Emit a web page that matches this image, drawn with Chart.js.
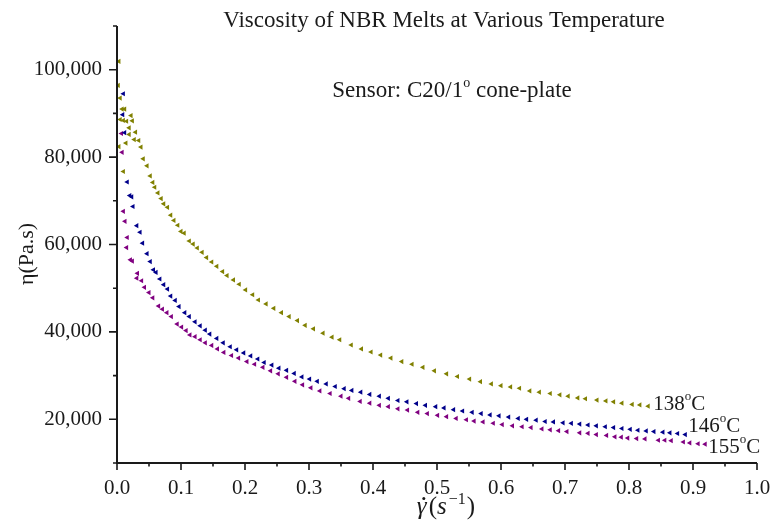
<!DOCTYPE html>
<html>
<head>
<meta charset="utf-8">
<script src="https://cdn.jsdelivr.net/npm/chart.js@4/dist/chart.umd.min.js"></script>
<style>
  html, body { margin: 0; padding: 0; background: #fff; }
  #wrap { width: 771px; height: 529px; }
</style>
</head>
<body>
<div id="wrap"><canvas id="viscChart" width="771" height="529"></canvas></div>
<script>
// shear rate (1/s) vs viscosity (Pa.s), one list per melt temperature
const eta138 = [
  [0.002, 96400], [0.003, 101900], [0.003, 82400], [0.005, 93500], [0.005, 88600],
  [0.008, 91000], [0.010, 76700], [0.010, 88400], [0.012, 91000], [0.014, 83200],
  [0.015, 88200], [0.019, 86700], [0.019, 85200], [0.022, 89500], [0.024, 88300],
  [0.027, 84000], [0.029, 85700], [0.034, 83800], [0.0375, 82300], [0.041, 79600],
  [0.047, 78000], [0.052, 75700], [0.056, 74200], [0.059, 73100], [0.064, 71800],
  [0.069, 70500], [0.073, 69300], [0.079, 68500], [0.084, 66700], [0.089, 65500],
  [0.095, 64400], [0.100, 63000], [0.105, 62600], [0.113, 60800], [0.119, 60100],
  [0.1255, 59200], [0.133, 58200], [0.140, 57000], [0.148, 56000], [0.156, 55000],
  [0.165, 53800], [0.172, 52900], [0.182, 51900], [0.191, 50900], [0.201, 49600],
  [0.212, 48500], [0.221, 47300], [0.233, 46400], [0.245, 45400], [0.257, 44400],
  [0.269, 43500], [0.282, 42600], [0.294, 41500], [0.307, 40700], [0.322, 39700],
  [0.336, 38800], [0.348, 38200], [0.366, 37000], [0.382, 36100], [0.397, 35400],
  [0.412, 34700], [0.428, 34000], [0.445, 33200], [0.461, 32600], [0.478, 31900],
  [0.496, 31100], [0.515, 30400], [0.532, 29800], [0.551, 29200], [0.568, 28600],
  [0.585, 28100], [0.600, 27700], [0.615, 27400], [0.629, 27100], [0.645, 26500],
  [0.660, 26200], [0.677, 25900], [0.692, 25600], [0.705, 25300], [0.720, 24900],
  [0.732, 24700], [0.750, 24400], [0.764, 24200], [0.776, 24000], [0.789, 23700],
  [0.805, 23400], [0.817, 23300], [0.830, 23000]
];
const eta146 = [
  [0.010, 94500], [0.009, 89700], [0.012, 85600], [0.016, 74300], [0.020, 71200],
  [0.023, 70900], [0.025, 68700], [0.031, 64300], [0.036, 62800], [0.040, 60300],
  [0.047, 57900], [0.052, 56100], [0.057, 54200], [0.061, 53600], [0.067, 52100],
  [0.073, 50800], [0.079, 49800], [0.084, 48200], [0.091, 47200], [0.097, 45800],
  [0.106, 44400], [0.113, 43500], [0.122, 42300], [0.130, 41400], [0.138, 40400],
  [0.145, 39500], [0.156, 38500], [0.166, 37500], [0.177, 36600], [0.187, 35900],
  [0.198, 35200], [0.209, 34500], [0.220, 33800], [0.230, 33000], [0.242, 32400],
  [0.253, 31700], [0.265, 31200], [0.277, 30500], [0.289, 29700], [0.301, 29200],
  [0.313, 28700], [0.327, 28100], [0.341, 27500], [0.355, 27000], [0.367, 26600],
  [0.381, 26200], [0.395, 25700], [0.410, 25300], [0.424, 24800], [0.439, 24300],
  [0.453, 24000], [0.468, 23600], [0.482, 23200], [0.498, 22900], [0.511, 22600],
  [0.526, 22200], [0.540, 21900], [0.555, 21600], [0.569, 21300], [0.583, 21000],
  [0.597, 20800], [0.612, 20500], [0.627, 20200], [0.640, 20000], [0.655, 19800],
  [0.669, 19500], [0.682, 19400], [0.697, 19200], [0.710, 19070], [0.723, 18900],
  [0.736, 18700], [0.749, 18500], [0.763, 18300], [0.776, 18100], [0.789, 17900],
  [0.802, 17700], [0.814, 17500], [0.827, 17350], [0.839, 17200], [0.853, 17050],
  [0.864, 16900], [0.876, 16750], [0.888, 16500]
];
const eta155 = [
  [0.007, 85400], [0.008, 81100], [0.010, 67600], [0.0125, 65300], [0.016, 61600],
  [0.015, 59300], [0.021, 56500], [0.024, 56200], [0.032, 53400], [0.031, 52300],
  [0.0385, 51700], [0.043, 50200], [0.050, 49000], [0.056, 47800], [0.065, 45900],
  [0.071, 45200], [0.078, 44400], [0.085, 43500], [0.094, 41800], [0.101, 41100],
  [0.108, 40300], [0.114, 39300], [0.122, 38900], [0.130, 38200], [0.138, 37500],
  [0.148, 36900], [0.157, 36100], [0.167, 35300], [0.179, 34600], [0.190, 34000],
  [0.203, 33200], [0.215, 32600], [0.228, 31900], [0.240, 31100], [0.252, 30400],
  [0.265, 29600], [0.278, 28700], [0.290, 27900], [0.303, 27200], [0.317, 26500],
  [0.333, 25900], [0.350, 25300], [0.362, 24800], [0.380, 24100], [0.395, 23700],
  [0.410, 23200], [0.424, 22900], [0.439, 22400], [0.454, 22100], [0.470, 21600],
  [0.485, 21300], [0.501, 20900], [0.515, 20600], [0.530, 20200], [0.546, 19900],
  [0.558, 19600], [0.572, 19400], [0.588, 19100], [0.602, 18800], [0.618, 18500],
  [0.633, 18300], [0.647, 18100], [0.664, 17800], [0.677, 17600], [0.690, 17400],
  [0.703, 17200], [0.723, 16900], [0.736, 16800], [0.749, 16500], [0.765, 16300],
  [0.778, 16000], [0.788, 15900], [0.798, 15700], [0.812, 15600], [0.825, 15500],
  [0.846, 15200], [0.856, 15200], [0.866, 15100], [0.885, 14800], [0.895, 14600],
  [0.908, 14400], [0.919, 14300]
];

const temps = ['138', '146', '155'];
const seriesColors = ['#808000', '#00008b', '#800080'];
// where each temperature tag sits relative to the last point of its series
const tagOffsets = [[5, 4], [3, -3], [3, 9]];

const serif = '"Liberation Serif", "Times New Roman", Times, serif';
const ink = '#1a1a1a';

function toPoints(rows) {
  return rows.map(r => ({ x: r[0], y: r[1] }));
}

// draws a run of text pieces (some raised / italic) starting at x or centred on x
function drawRun(ctx, pieces, x, y, align) {
  let total = 0;
  pieces.forEach(p => {
    ctx.font = (p.italic ? 'italic ' : '') + p.size + 'px ' + serif;
    p.w = ctx.measureText(p.text).width;
    total += p.w + (p.gap || 0);
  });
  let cx = align === 'center' ? x - total / 2 : x;
  pieces.forEach(p => {
    ctx.font = (p.italic ? 'italic ' : '') + p.size + 'px ' + serif;
    ctx.fillText(p.text, cx, y - (p.rise || 0));
    if (p.dot) {
      ctx.beginPath();
      ctx.arc(cx + p.w / 2 + 2, y - p.size * 0.62, 1.5, 0, Math.PI * 2);
      ctx.fill();
    }
    cx += p.w + (p.gap || 0);
  });
}

const decorPlugin = {
  id: 'decor',
  afterDraw(chart) {
    const { ctx, chartArea: a, scales: { x, y } } = chart;
    ctx.save();

    // axis lines
    ctx.strokeStyle = ink;
    ctx.lineWidth = 2;
    ctx.beginPath();
    ctx.moveTo(a.left, a.top);
    ctx.lineTo(a.left, a.bottom);
    ctx.lineTo(a.right, a.bottom);
    ctx.stroke();

    // tick marks, long on labelled ticks, short in between
    ctx.lineWidth = 1.6;
    ctx.beginPath();
    x.ticks.forEach((t, i) => {
      const px = x.getPixelForTick(i);
      const len = t.label ? 7 : 3.5;
      ctx.moveTo(px, a.bottom);
      ctx.lineTo(px, a.bottom + len);
    });
    y.ticks.forEach((t, i) => {
      const py = y.getPixelForTick(i);
      const len = t.label ? 8 : 4;
      ctx.moveTo(a.left, py);
      ctx.lineTo(a.left - len, py);
    });
    ctx.stroke();

    ctx.fillStyle = ink;
    ctx.textBaseline = 'alphabetic';
    ctx.textAlign = 'left';

    const midX = (a.left + a.right) / 2;
    drawRun(ctx, [{ text: 'Viscosity of NBR Melts at Various Temperature', size: 23 }], midX + 7, 27, 'center');
    drawRun(ctx, [
      { text: 'Sensor: C20/1', size: 23 },
      { text: 'o', size: 14, rise: 10 },
      { text: ' cone-plate', size: 23 }
    ], midX + 15, 97, 'center');

    // x axis title: gamma-dot (s^-1)
    drawRun(ctx, [
      { text: '\u03b3', size: 25, italic: true, dot: true, gap: 2 },
      { text: '(', size: 25 },
      { text: 's', size: 25, italic: true, gap: 2 },
      { text: '\u22121', size: 16, rise: 10, gap: 1 },
      { text: ')', size: 25 }
    ], midX + 9, 514, 'center');

    // y axis title
    ctx.save();
    ctx.translate(33, 254);
    ctx.rotate(-Math.PI / 2);
    drawRun(ctx, [{ text: '\u03b7(Pa.s)', size: 22 }], 0, 0, 'center');
    ctx.restore();

    // temperature tags beside the last point of each series
    chart.data.datasets.forEach((ds, i) => {
      const pts = chart.getDatasetMeta(i).data;
      const last = pts[pts.length - 1];
      ctx.fillStyle = ink;
      drawRun(ctx, [
        { text: temps[i], size: 21 },
        { text: 'o', size: 13, rise: 10 },
        { text: 'C', size: 21 }
      ], last.x + tagOffsets[i][0], last.y + tagOffsets[i][1], 'left');
    });

    ctx.restore();
  }
};

const datasets = [eta138, eta146, eta155].map((rows, i) => ({
  label: temps[i] + ' \u00b0C',
  data: toPoints(rows),
  pointStyle: 'triangle',
  rotation: -90,
  pointRadius: 3,
  pointBorderWidth: 0,
  backgroundColor: seriesColors[i],
  borderColor: seriesColors[i],
  showLine: false
}));

new Chart(document.getElementById('viscChart'), {
  type: 'scatter',
  data: { datasets: datasets },
  options: {
    responsive: false,
    animation: false,
    layout: { padding: { top: 26, right: 14, left: 0, bottom: 0 } },
    plugins: {
      legend: { display: false },
      title: { display: false },
      tooltip: { enabled: false }
    },
    scales: {
      x: {
        type: 'linear',
        min: 0,
        max: 1,
        border: { display: false },
        grid: { display: false, drawTicks: false },
        ticks: {
          stepSize: 0.05,
          padding: 13,
          maxRotation: 0,
          autoSkip: false,
          color: ink,
          font: { family: serif, size: 21 },
          callback: v => Math.abs(v * 10 - Math.round(v * 10)) < 1e-6 ? v.toFixed(1) : ''
        },
        afterFit: s => {
          s.height = 66;
          s.paddingLeft = 0;
          s.paddingRight = 0;
        }
      },
      y: {
        type: 'linear',
        min: 10000,
        max: 110000,
        border: { display: false },
        grid: { display: false, drawTicks: false },
        ticks: {
          stepSize: 10000,
          padding: 15,
          autoSkip: false,
          color: ink,
          font: { family: serif, size: 21 },
          callback: v => v % 20000 === 0 ? v.toLocaleString('en-US') : ''
        },
        afterFit: s => {
          s.width = 117;
          s.paddingTop = 0;
          s.paddingBottom = 0;
        }
      }
    }
  },
  plugins: [decorPlugin]
});
</script>
</body>
</html>
